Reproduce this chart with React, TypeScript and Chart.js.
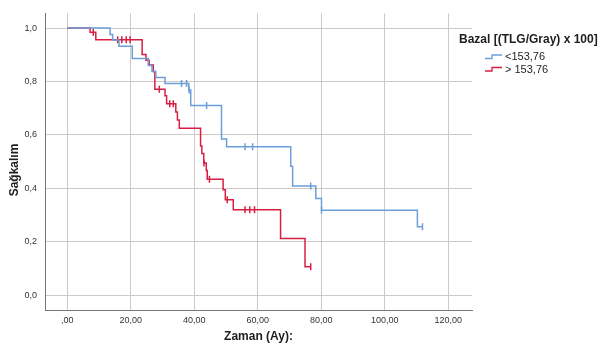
import React, { useEffect, useRef } from "react";
import { Chart, registerables } from "chart.js";

Chart.register(...registerables);

// Group 1: < 153,76 (blue)
const blueTimes = [0, 13.5, 14.3, 16.3, 20.5, 25.5, 26.7, 27.9, 30.8, 38.3, 38.9, 48.6, 50.2, 70.4, 71.0, 78.3, 80.1, 110.3, 111.9];
const blueSurv = [1.0, 0.976, 0.955, 0.932, 0.886, 0.86, 0.838, 0.815, 0.793, 0.768, 0.71, 0.585, 0.556, 0.483, 0.409, 0.362, 0.318, 0.257, 0.257];
const blueCensorTimes = [36.0, 37.6, 38.4, 43.9, 56.0, 58.4, 76.7, 80.1, 111.9];
const blueCensorSurv = [0.793, 0.793, 0.768, 0.71, 0.556, 0.556, 0.409, 0.318, 0.257];

// Group 2: > 153,76 (red)
const redTimes = [0, 7.2, 9.0, 23.6, 24.8, 25.8, 27.1, 27.6, 30.8, 31.3, 34.2, 34.7, 35.3, 42.0, 42.4, 43.0, 43.8, 44.1, 49.1, 49.8, 52.3, 67.2, 74.9, 76.7];
const redSurv = [1.0, 0.984, 0.956, 0.901, 0.88, 0.862, 0.838, 0.771, 0.747, 0.717, 0.686, 0.656, 0.625, 0.559, 0.531, 0.495, 0.467, 0.434, 0.395, 0.358, 0.32, 0.213, 0.107, 0.107];
const redCensorTimes = [8.2, 15.9, 17.2, 18.6, 19.8, 29.0, 32.3, 33.4, 43.1, 44.8, 50.4, 56.0, 57.5, 59.0, 76.7];
const redCensorSurv = [0.984, 0.956, 0.956, 0.956, 0.956, 0.771, 0.717, 0.717, 0.495, 0.434, 0.358, 0.32, 0.32, 0.32, 0.107];

const xTicks = [0, 20, 40, 60, 80, 100, 120];
const yTicks = [0, 0.2, 0.4, 0.6, 0.8, 1.0];

const legendTitle = "Bazal [(TLG/Gray) x 100]";
const groupLabels = ["<153,76", "> 153,76"];
const xTitle = "Zaman (Ay):";
const yTitle = "Sağkalım";

const BLUE = "#6b9fd9";
const RED = "#d91e43";
const FONT = "'Liberation Sans', Arial, sans-serif";

const pts = (xs: number[], ys: number[]) => xs.map((x, i) => ({ x, y: ys[i] }));

export default function App() {
  const ref = useRef<HTMLCanvasElement | null>(null);
  useEffect(() => {
    if (!ref.current) return;
    const colors = [BLUE, RED];
    const overlay = {
      id: "overlay",
      afterDraw(chart: any) {
        const ctx = chart.ctx;
        const area = chart.chartArea;
        ctx.save();
        ctx.fillStyle = "#1e1e1e";
        // x title
        ctx.font = `bold 12px ${FONT}`;
        ctx.textAlign = "center";
        ctx.textBaseline = "middle";
        ctx.fillText(xTitle, (area.left + area.right) / 2, 337);
        // y title
        ctx.save();
        ctx.translate(15, 170);
        ctx.rotate(-Math.PI / 2);
        ctx.fillText(yTitle, 0, 0);
        ctx.restore();
        // legend
        ctx.textAlign = "left";
        ctx.font = `bold 12px ${FONT}`;
        ctx.fillText(legendTitle, 459, 40);
        ctx.font = `11px ${FONT}`;
        groupLabels.forEach((lab, i) => {
          const cy = 57 + i * 12.5;
          ctx.strokeStyle = colors[i];
          ctx.lineWidth = 1.3;
          ctx.beginPath();
          ctx.moveTo(485, cy + 1.5);
          ctx.lineTo(492, cy + 1.5);
          ctx.lineTo(492, cy - 2);
          ctx.lineTo(502, cy - 2);
          ctx.stroke();
          ctx.fillStyle = "#1e1e1e";
          ctx.fillText(lab, 505, cy);
        });
        ctx.restore();
      },
    };
    const chart = new Chart(ref.current, {
      type: "scatter",
      data: {
        datasets: [
          {
            data: pts(blueTimes, blueSurv),
            showLine: true,
            stepped: "before",
            borderColor: BLUE,
            borderWidth: 1.5,
            pointRadius: 0,
            fill: false,
          },
          {
            data: pts(redTimes, redSurv),
            showLine: true,
            stepped: "before",
            borderColor: RED,
            borderWidth: 1.5,
            pointRadius: 0,
            fill: false,
          },
          {
            data: pts(blueCensorTimes, blueCensorSurv),
            showLine: false,
            pointStyle: "line",
            rotation: 90,
            pointRadius: 3.5,
            borderColor: BLUE,
            backgroundColor: BLUE,
            pointBorderWidth: 1.5,
          },
          {
            data: pts(redCensorTimes, redCensorSurv),
            showLine: false,
            pointStyle: "line",
            rotation: 90,
            pointRadius: 3.5,
            borderColor: RED,
            backgroundColor: RED,
            pointBorderWidth: 1.5,
          },
        ],
      },
      options: {
        animation: false,
        responsive: false,
        maintainAspectRatio: false,
        layout: { padding: { left: 0, right: 129, top: 5, bottom: 0 } },
        plugins: { legend: { display: false }, tooltip: { enabled: false }, title: { display: false } },
        scales: {
          x: {
            type: "linear",
            min: -7,
            max: 127.5,
            afterFit(scale: any) {
              scale.height = 40;
            },
            afterBuildTicks(scale: any) {
              scale.ticks = xTicks.map((value) => ({ value }));
            },
            ticks: {
              padding: 5,
              autoSkip: false,
              maxRotation: 0,
              color: "#333",
              font: { family: FONT, size: 9 },
              callback: (v: any) => (v === 0 ? ",00" : Number(v).toFixed(2).replace(".", ",")),
            },
            grid: { color: "#d0c9c6", lineWidth: 1, drawTicks: false },
            border: { display: true, color: "#777", width: 1 },
          },
          y: {
            type: "linear",
            min: -0.055,
            max: 1.055,
            afterFit(scale: any) {
              scale.width = 45;
            },
            afterBuildTicks(scale: any) {
              scale.ticks = yTicks.map((value) => ({ value }));
            },
            ticks: {
              padding: 8,
              autoSkip: false,
              color: "#333",
              font: { family: FONT, size: 9 },
              callback: (v: any) => Number(v).toFixed(1).replace(".", ","),
            },
            grid: { color: "#d0c9c6", lineWidth: 1, drawTicks: false },
            border: { display: true, color: "#777", width: 1 },
          },
        },
      },
      plugins: [overlay],
    } as any);
    return () => chart.destroy();
  }, []);
  return (
    <div style={{ position: "fixed", left: 0, top: 0, width: 601, height: 350, background: "#fff" }}>
      <canvas ref={ref} width={601} height={350} style={{ width: 601, height: 350 }} />
    </div>
  );
}
